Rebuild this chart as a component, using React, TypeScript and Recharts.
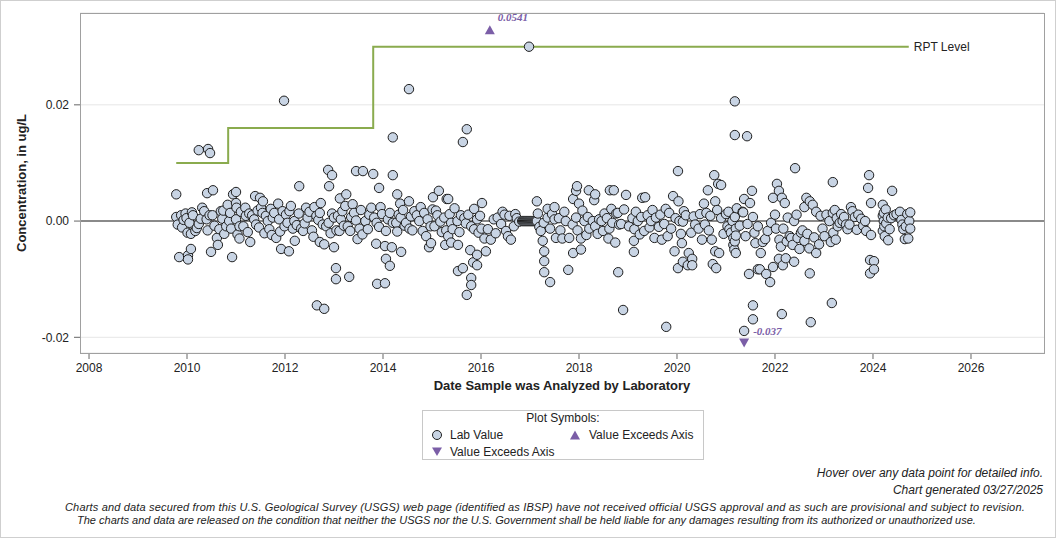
import React from 'react';
import {
  ComposedChart,
  Line,
  Scatter,
  XAxis,
  YAxis,
  CartesianGrid,
  ReferenceLine,
} from 'recharts';

type Pt = [number, number];

// decimal year, concentration (ug/L)
const lab2009to2011: Pt[] = [
  [2009.78, 0.0046], [2009.78, 0.0007], [2009.81, -0.0006], [2009.84, -0.0062], [2009.88, 0.001],
  [2009.9, -0.0011], [2009.93, 0.0002], [2009.97, 0.0013], [2009.99, 0.0005], [2010.01, -0.002],
  [2010.02, -0.0059], [2010.02, -0.0066], [2010.05, -0.0003], [2010.08, -0.0048], [2010.08, -0.0022],
  [2010.1, 0.0015], [2010.12, 0.001], [2010.17, -0.0017], [2010.2, -0.0012], [2010.24, 0.0122],
  [2010.24, -0.0005], [2010.28, 0.0004], [2010.31, 0.0023], [2010.35, 0.0017], [2010.4, 0.0003],
  [2010.41, 0.0048], [2010.42, -0.0016], [2010.43, 0.0124], [2010.46, 0.001], [2010.47, 0.0117],
  [2010.49, -0.0053], [2010.52, 0.001], [2010.53, 0.0053], [2010.56, -0.0008], [2010.61, -0.0029],
  [2010.63, -0.0041], [2010.66, -0.0014], [2010.69, 0.0017], [2010.72, 0.0004], [2010.74, 0.0018],
  [2010.76, -0.0022], [2010.8, -0.0009], [2010.83, 0.0028], [2010.86, 0.0], [2010.88, 0.0014],
  [2010.9, -0.0013], [2010.92, -0.0062], [2010.94, 0.0046], [2011.0, 0.0031], [2011.0, 0.005],
  [2011.01, 0.0023], [2011.0, 0.0003], [2011.03, -0.0023], [2011.07, -0.0009], [2011.07, -0.003],
  [2011.1, 0.0016], [2011.15, -0.0009], [2011.19, 0.0023], [2011.2, 0.0009], [2011.24, -0.0019],
  [2011.27, 0.0013], [2011.29, -0.0036],
];

const lab2011to2013: Pt[] = [
  [2011.33, 0.001], [2011.37, 0.0003], [2011.39, 0.0043], [2011.41, -0.0006], [2011.44, 0.0018],
  [2011.47, -0.0011], [2011.49, 0.004], [2011.51, 0.0023], [2011.54, 0.0014], [2011.55, 0.0034],
  [2011.58, -0.0021], [2011.61, 0.0009], [2011.65, 0.0], [2011.68, -0.0014], [2011.71, 0.0021],
  [2011.73, -0.0024], [2011.75, 0.0006], [2011.78, 0.0014], [2011.82, -0.0029], [2011.86, 0.003],
  [2011.88, 0.0003], [2011.9, -0.0018], [2011.92, -0.0048], [2011.95, 0.0017], [2011.98, 0.0207],
  [2011.99, -0.0009], [2012.02, 0.0011], [2012.05, -0.0003], [2012.08, -0.0052], [2012.09, 0.0017],
  [2012.12, 0.0026], [2012.16, -0.0013], [2012.19, 0.0], [2012.2, -0.0034], [2012.24, -0.0007],
  [2012.28, 0.0013], [2012.29, 0.006], [2012.33, -0.0013], [2012.37, -0.0017], [2012.4, -0.0004],
  [2012.43, 0.0023], [2012.46, 0.0006], [2012.5, 0.0016], [2012.55, -0.0016], [2012.58, -0.0027],
  [2012.6, 0.0024], [2012.64, 0.0009], [2012.65, -0.0145], [2012.68, 0.0002], [2012.71, 0.0014],
  [2012.71, -0.0036], [2012.73, 0.0031], [2012.77, -0.0006], [2012.8, -0.004], [2012.8, -0.0151],
  [2012.84, -0.0009], [2012.88, 0.0088], [2012.89, -0.0003], [2012.9, 0.006], [2012.93, -0.0021],
  [2012.96, 0.0079], [2012.96, 0.0013], [2013.0, 0.0006], [2013.0, -0.0045],
];

const lab2013to2014: Pt[] = [
  [2013.04, -0.0081], [2013.04, -0.01], [2013.05, -0.0016], [2013.08, 0.0009], [2013.11, -0.0017],
  [2013.12, 0.0039], [2013.14, 0.0003], [2013.17, 0.0017], [2013.2, -0.0008], [2013.23, 0.0026],
  [2013.25, 0.0046], [2013.28, -0.0009], [2013.31, -0.0096], [2013.33, -0.0017], [2013.35, 0.0007],
  [2013.38, 0.0029], [2013.41, 0.0014], [2013.45, 0.0086], [2013.45, 0.0001], [2013.48, -0.0031],
  [2013.52, -0.0013], [2013.55, 0.0019], [2013.58, -0.0023], [2013.59, 0.0086], [2013.64, 0.0],
  [2013.69, -0.0014], [2013.72, 0.0011], [2013.76, 0.0023], [2013.8, 0.0081], [2013.82, 0.0006],
  [2013.86, -0.0039], [2013.87, -0.0003], [2013.88, -0.0108], [2013.92, 0.0057], [2013.92, -0.001],
  [2013.95, 0.0024], [2013.98, 0.0012], [2014.04, -0.0107], [2014.04, -0.0043], [2014.06, -0.0017],
  [2014.06, -0.0065], [2014.1, 0.0003], [2014.14, 0.0014], [2014.14, -0.0077], [2014.2, -0.0003],
  [2014.2, 0.0079], [2014.2, 0.0144], [2014.18, -0.0045],
];

const lab2014to2016: Pt[] = [
  [2014.27, -0.0003], [2014.29, 0.0046], [2014.29, -0.0018], [2014.32, 0.0011], [2014.35, 0.003],
  [2014.36, 0.0006], [2014.37, -0.0053], [2014.41, 0.0019], [2014.44, -0.0008], [2014.47, -0.0003],
  [2014.53, 0.0034], [2014.53, 0.0227], [2014.54, -0.0013], [2014.57, 0.0008], [2014.6, -0.0016],
  [2014.64, 0.0017], [2014.69, 0.001], [2014.74, 0.0], [2014.77, 0.0024], [2014.81, -0.0017],
  [2014.84, 0.0014], [2014.88, -0.0026], [2014.91, 0.0003], [2014.94, -0.0045], [2014.97, -0.0009],
  [2014.98, -0.0038], [2015.01, 0.002], [2015.02, 0.0041], [2015.05, -0.0009], [2015.08, 0.0018],
  [2015.11, 0.001], [2015.14, 0.0052], [2015.17, -0.0001], [2015.2, -0.0019], [2015.25, 0.0006],
  [2015.27, -0.0041], [2015.29, -0.0016], [2015.3, 0.0038], [2015.33, 0.0038], [2015.33, -0.0026],
  [2015.36, 0.0012], [2015.39, -0.0003], [2015.39, -0.0037], [2015.42, -0.0014], [2015.46, 0.0022],
  [2015.52, 0.0], [2015.53, -0.0086], [2015.53, -0.0041], [2015.56, -0.0019], [2015.59, 0.001],
  [2015.63, 0.0136], [2015.63, -0.0081], [2015.66, 0.0005], [2015.69, -0.0004], [2015.71, 0.0158],
  [2015.71, -0.0127], [2015.74, 0.0011], [2015.78, -0.005], [2015.8, -0.0009], [2015.8, -0.0098],
  [2015.8, -0.011], [2015.84, -0.0071], [2015.86, 0.0021], [2015.86, -0.0014], [2015.92, 0.0003],
  [2015.92, -0.0058], [2015.92, -0.0076], [2015.95, -0.002], [2015.98, 0.0009], [2016.01, -0.0013],
  [2016.02, 0.0031],
];

const lab2016to2017: Pt[] = [
  [2016.07, -0.003], [2016.1, -0.0052], [2016.14, -0.0014], [2016.2, -0.0032], [2016.26, 0.0003],
  [2016.3, -0.0021], [2016.34, 0.0006], [2016.41, -0.0005], [2016.44, 0.0016], [2016.48, 0.0011],
  [2016.51, -0.0017], [2016.55, -0.0026], [2016.58, 0.0009], [2016.61, -0.0032], [2016.67, -0.0009],
  [2016.7, 0.0012], [2016.73, 0.0005], [2016.78, -0.0001],
  [2016.84, 0], [2016.86, 0], [2016.88, 0], [2016.9, 0], [2016.92, 0], [2016.94, 0], [2016.96, 0],
  [2016.98, 0], [2017.0, 0], [2017.02, 0], [2017.04, 0], [2017.06, 0], [2017.08, 0], [2017.1, 0],
  [2017.12, 0], [2017.14, 0],
  [2016.98, 0.03], [2017.14, 0.0034], [2017.16, 0.0013], [2017.19, -0.001], [2017.22, -0.0017],
  [2017.26, -0.0034], [2017.28, -0.0003], [2017.29, -0.0052], [2017.29, -0.0069], [2017.29, -0.0088],
  [2017.36, 0.0006], [2017.36, 0.0021], [2017.41, -0.0013], [2017.41, -0.0105], [2017.45, 0.0012],
  [2017.5, 0.0003], [2017.5, 0.0024], [2017.53, -0.0029], [2017.59, 0.0005], [2017.62, -0.0016],
  [2017.66, -0.003], [2017.7, 0.0016], [2017.73, 0.0], [2017.78, -0.0084], [2017.8, -0.0029],
];

const lab2017to2019: Pt[] = [
  [2017.87, -0.0006], [2017.88, 0.0038], [2017.88, -0.0055], [2017.94, 0.0052], [2017.94, 0.0006],
  [2017.96, 0.006], [2017.97, -0.0016], [2018.0, 0.003], [2018.04, -0.003], [2018.04, -0.0049],
  [2018.07, 0.0018], [2018.11, 0.0], [2018.15, -0.0024], [2018.18, 0.0007], [2018.2, 0.0053],
  [2018.21, -0.0013], [2018.28, 0.0], [2018.31, 0.0036], [2018.33, 0.0046], [2018.33, -0.0009],
  [2018.38, -0.0022], [2018.41, 0.0003], [2018.46, 0.0], [2018.49, -0.0017], [2018.52, 0.0013],
  [2018.57, 0.0005], [2018.6, -0.003], [2018.62, -0.0013], [2018.63, 0.0053], [2018.66, 0.0021],
  [2018.68, -0.0003], [2018.71, 0.0053], [2018.74, -0.0037], [2018.76, 0.0013], [2018.79, 0.0014],
  [2018.8, -0.0088], [2018.82, -0.0006], [2018.86, -0.0005], [2018.9, -0.0153], [2018.92, 0.002],
  [2018.96, 0.0045],
];

const lab2019to2020: Pt[] = [
  [2019.02, -0.0009], [2019.09, 0.0005], [2019.12, -0.0034], [2019.12, -0.0053], [2019.13, -0.0014],
  [2019.16, 0.0016], [2019.2, 0.0], [2019.24, -0.0023], [2019.27, 0.0007], [2019.29, 0.004],
  [2019.33, -0.0017], [2019.35, 0.0041], [2019.4, 0.001], [2019.44, -0.0011], [2019.47, 0.0],
  [2019.5, 0.0019], [2019.54, -0.0029], [2019.57, 0.0006], [2019.63, -0.001], [2019.66, 0.0011],
  [2019.69, -0.0032], [2019.74, -0.0005], [2019.77, 0.0021], [2019.78, -0.0182], [2019.81, -0.0026],
  [2019.84, 0.0014], [2019.88, -0.0013], [2019.92, 0.0043], [2019.95, -0.0052], [2019.97, 0.0005],
  [2020.02, 0.0086], [2020.02, -0.0081], [2020.03, 0.0034], [2020.05, 0.0], [2020.08, -0.0022],
  [2020.1, -0.0038], [2020.12, -0.0001], [2020.12, -0.007], [2020.14, 0.0017], [2020.18, 0.001],
  [2020.22, -0.0076], [2020.24, -0.0055], [2020.29, -0.002], [2020.31, -0.0065], [2020.31, -0.0076],
  [2020.34, 0.0008], [2020.37, -0.0006], [2020.44, -0.0013], [2020.47, 0.0012], [2020.51, -0.0032],
];

const lab2020to2021: Pt[] = [
  [2020.55, 0.003], [2020.57, -0.0006], [2020.6, 0.0014], [2020.63, 0.0053], [2020.65, -0.0016],
  [2020.68, 0.0009], [2020.71, -0.0032], [2020.73, -0.0074], [2020.76, 0.0079], [2020.78, 0.0034],
  [2020.78, -0.0052], [2020.8, -0.0081], [2020.82, 0.0019], [2020.84, 0.0064], [2020.86, -0.0055],
  [2020.9, 0.0062], [2020.9, 0.0005], [2020.95, -0.0022], [2021.0, 0.0012], [2021.03, -0.0009],
  [2021.05, 0.0016], [2021.07, -0.0014], [2021.1, -0.002], [2021.13, 0.0], [2021.15, -0.0029],
  [2021.15, -0.0041], [2021.17, -0.0049], [2021.18, 0.0206], [2021.18, 0.0148], [2021.18, 0.0007],
  [2021.18, -0.0035], [2021.2, -0.0013], [2021.2, -0.0025], [2021.2, -0.0055], [2021.22, 0.0022],
  [2021.28, -0.0008], [2021.34, 0.0016], [2021.35, 0.0015], [2021.37, 0.0038], [2021.37, -0.0189],
  [2021.4, -0.0026], [2021.43, 0.0146], [2021.44, -0.0005], [2021.47, -0.0091], [2021.49, 0.0031],
];

const lab2021to2022: Pt[] = [
  [2021.53, 0.0052], [2021.55, 0.0007], [2021.55, -0.0145], [2021.55, -0.0169], [2021.58, -0.002],
  [2021.6, -0.0038], [2021.65, -0.0083], [2021.65, -0.0009], [2021.69, -0.0083], [2021.71, -0.0055],
  [2021.75, -0.0036], [2021.8, -0.0031], [2021.82, -0.0091], [2021.85, -0.0017], [2021.9, -0.0105],
  [2021.92, -0.0003], [2021.96, -0.0079], [2021.96, 0.004], [2022.0, 0.0011], [2022.02, -0.0013],
  [2022.04, 0.0064], [2022.08, -0.0065], [2022.08, 0.0052], [2022.09, -0.0032], [2022.12, -0.0044],
  [2022.14, -0.016], [2022.14, 0.004], [2022.16, -0.0076], [2022.17, -0.0013], [2022.2, 0.0031],
  [2022.22, -0.0064], [2022.24, -0.0035], [2022.26, 0.0006], [2022.3, -0.0026], [2022.33, -0.0029],
  [2022.36, -0.0041], [2022.39, 0.0], [2022.39, -0.007], [2022.41, 0.0091], [2022.44, 0.0011],
  [2022.46, -0.0029], [2022.5, -0.0048], [2022.53, -0.002],
];

const lab2022to2023: Pt[] = [
  [2022.56, -0.0016], [2022.6, -0.0034], [2022.6, 0.0024], [2022.64, 0.004], [2022.66, -0.0022],
  [2022.7, -0.0047], [2022.71, 0.0034], [2022.71, -0.009], [2022.73, -0.0174], [2022.77, 0.0028],
  [2022.8, -0.0028], [2022.84, -0.0055], [2022.84, 0.0016], [2022.9, -0.004], [2022.93, 0.0009],
  [2022.97, -0.0013], [2023.01, -0.0026], [2023.05, 0.0011], [2023.11, 0.0], [2023.14, -0.0036],
  [2023.16, -0.0141], [2023.18, 0.0067], [2023.18, 0.0014], [2023.19, -0.002], [2023.22, 0.0019],
  [2023.24, -0.0032], [2023.26, 0.0005], [2023.28, -0.0009], [2023.32, -0.0003], [2023.35, 0.0012],
  [2023.38, 0.0], [2023.41, 0.0007],
];

const lab2023to2024: Pt[] = [
  [2023.45, -0.0006], [2023.48, -0.0014], [2023.52, -0.0006], [2023.55, 0.0024], [2023.58, 0.0017],
  [2023.63, 0.0007], [2023.67, -0.0015], [2023.7, 0.0011], [2023.76, 0.0004], [2023.8, -0.0008],
  [2023.84, 0.0], [2023.86, -0.0017], [2023.9, 0.0057], [2023.92, 0.0079], [2023.94, -0.0067],
  [2023.94, -0.009], [2023.96, 0.0031], [2023.96, -0.0024], [2024.02, -0.0069], [2024.02, -0.0083],
  [2024.2, 0.0028], [2024.2, 0.0009], [2024.2, -0.0017], [2024.22, 0.0], [2024.22, 0.0014],
  [2024.23, -0.0009], [2024.24, -0.0026], [2024.26, 0.002], [2024.27, -0.0004], [2024.3, 0.0006],
  [2024.31, -0.0033], [2024.34, -0.0014], [2024.37, 0.0005], [2024.39, 0.0052], [2024.43, 0.001],
  [2024.48, 0.0012], [2024.55, 0.0016], [2024.58, 0.0002], [2024.6, -0.0006], [2024.62, -0.0014],
  [2024.65, -0.0031], [2024.67, -0.0009], [2024.7, 0.0012], [2024.72, -0.003], [2024.74, 0.0],
  [2024.76, 0.0015], [2024.76, -0.0013],
];

// values beyond the axis range, drawn as triangles pinned to the edge
const exceedHigh: Pt[] = [[2016.18, 0.0541]];
const exceedLow: Pt[] = [[2021.37, -0.037]];

// reporting level steps: start of each level, last point closes the line
const rptLevel: Pt[] = [[2009.78, 0.01], [2010.84, 0.016], [2013.8, 0.03], [2024.73, 0.03]];

const yearTicks = [2008, 2010, 2012, 2014, 2016, 2018, 2020, 2022, 2024, 2026];
const concTicks = [-0.02, 0, 0.02];

const X_DOMAIN: [number, number] = [2007.816, 2027.49];
const Y_DOMAIN: [number, number] = [-0.0227, 0.0358];
const PIN_HIGH = 0.0329;
const PIN_LOW = -0.021;

const FONT = '"Liberation Sans", Arial, sans-serif';
const PURPLE = '#7b5ea7';

const labValues = [
  ...lab2009to2011, ...lab2011to2013, ...lab2013to2014, ...lab2014to2016, ...lab2016to2017,
  ...lab2017to2019, ...lab2019to2020, ...lab2020to2021, ...lab2021to2022, ...lab2022to2023,
  ...lab2023to2024,
].map(([x, y]) => ({ x, y }));

const highMarks = exceedHigh.map(([x, v]) => ({ x, y: Math.min(v, PIN_HIGH), value: v }));
const lowMarks = exceedLow.map(([x, v]) => ({ x, y: Math.max(v, PIN_LOW), value: v }));
const rptData = rptLevel.map(([x, y]) => ({ x, y }));

const LabCircle = (p: any) => (
  <circle cx={p.cx} cy={p.cy} r={4.7} fill="#c8d4e4" stroke="#1e1e1e" strokeWidth={1} />
);

const UpMark = (p: any) => (
  <g>
    <path d={`M${p.cx - 5},${p.cy + 4.5} L${p.cx + 5},${p.cy + 4.5} L${p.cx},${p.cy - 4.5} Z`} fill={PURPLE} />
    <text x={p.cx + 8} y={p.cy - 9} fill={PURPLE} fontSize={11} fontStyle="italic" fontWeight="bold"
      fontFamily='"Liberation Serif", "Times New Roman", serif'>
      {p.payload.value}
    </text>
  </g>
);

const DownMark = (p: any) => (
  <g>
    <path d={`M${p.cx - 5},${p.cy - 4.5} L${p.cx + 5},${p.cy - 4.5} L${p.cx},${p.cy + 4.5} Z`} fill={PURPLE} />
    <text x={p.cx + 9} y={p.cy - 8} fill={PURPLE} fontSize={11} fontStyle="italic" fontWeight="bold"
      fontFamily='"Liberation Serif", "Times New Roman", serif'>
      {p.payload.value}
    </text>
  </g>
);

const RptLabel = (p: any) =>
  p.index === rptData.length - 1 ? (
    <text x={p.x + 5} y={p.y + 4} fontSize={12} fill="#222" fontFamily={FONT}>RPT Level</text>
  ) : null;

const abs = (left: number, top: number): React.CSSProperties => ({ position: 'absolute', left, top });

export default function App() {
  return (
    <div style={{ position: 'absolute', left: 0, top: 0, width: 1054, height: 536, border: '1px solid #cfcfcf', background: '#fff', fontFamily: FONT, color: '#222' }}>
      <ComposedChart width={1056} height={400} margin={{ top: 12, right: 13, left: 0, bottom: 18 }}>
        <CartesianGrid vertical={false} stroke="#e6e6e6" />
        <XAxis type="number" dataKey="x" domain={X_DOMAIN} ticks={yearTicks} allowDataOverflow
          axisLine={false} tickSize={6} tickMargin={4} height={30} stroke="#666"
          tick={{ fill: '#222', fontSize: 12, fontFamily: FONT }} />
        <YAxis type="number" dataKey="y" domain={Y_DOMAIN} ticks={concTicks} allowDataOverflow
          axisLine={false} tickSize={6} tickMargin={5} width={79} stroke="#666"
          tickFormatter={(v: number) => v.toFixed(2)}
          tick={{ fill: '#222', fontSize: 12, fontFamily: FONT }} />
        <ReferenceLine y={0} stroke="#8a8a8a" strokeWidth={2} />
        <Line data={rptData} dataKey="y" type="stepAfter" stroke="#8aab4e" strokeWidth={2}
          dot={false} activeDot={false} isAnimationActive={false} label={RptLabel} />
        <Scatter data={labValues} dataKey="y" shape={LabCircle} isAnimationActive={false} />
        <Scatter data={highMarks} dataKey="y" shape={UpMark} isAnimationActive={false} />
        <Scatter data={lowMarks} dataKey="y" shape={DownMark} isAnimationActive={false} />
      </ComposedChart>

      {/* plot frame */}
      <div style={{ ...abs(79, 12), width: 963, height: 339, border: '1px solid #a0a0a0', pointerEvents: 'none' }} />

      <div style={{ ...abs(20, 182), transform: 'translate(-50%, -50%) rotate(-90deg)', whiteSpace: 'nowrap', fontSize: 13, fontWeight: 'bold' }}>
        Concentration, in ug/L
      </div>
      <div style={{ ...abs(561, 377), transform: 'translateX(-50%)', whiteSpace: 'nowrap', fontSize: 13, fontWeight: 'bold' }}>
        Date Sample was Analyzed by Laboratory
      </div>

      {/* symbol key */}
      <div style={{ ...abs(421, 409), width: 280, height: 48, border: '1px solid #c8c8c8', fontSize: 12 }}>
        <div style={{ textAlign: 'center', lineHeight: '15px' }}>Plot Symbols:</div>
        <svg width={280} height={34} style={{ position: 'absolute', left: 0, top: 15 }}>
          <circle cx={14} cy={9} r={4.5} fill="#c8d4e4" stroke="#1e1e1e" strokeWidth={1} />
          <text x={27} y={13} fontSize={12} fill="#222" fontFamily={FONT}>Lab Value</text>
          <path d="M147,13.5 L157,13.5 L152,4.5 Z" fill={PURPLE} />
          <text x={166} y={13} fontSize={12} fill="#222" fontFamily={FONT}>Value Exceeds Axis</text>
          <path d="M9,21.5 L19,21.5 L14,30 Z" fill={PURPLE} />
          <text x={27} y={30} fontSize={12} fill="#222" fontFamily={FONT}>Value Exceeds Axis</text>
        </svg>
      </div>

      <div style={{ position: 'absolute', right: 12, top: 464, fontSize: 12, fontStyle: 'italic', textAlign: 'right', lineHeight: '17px' }}>
        Hover over any data point for detailed info.<br />Chart generated 03/27/2025
      </div>
      <div style={{ ...abs(64, 500), whiteSpace: 'nowrap', fontSize: 11, fontStyle: 'italic', lineHeight: '13px', letterSpacing: '0.17px' }}>
        Charts and data secured from this U.S. Geological Survey (USGS) web page (identified as IBSP) have not received official USGS approval and as such are provisional and subject to revision.
      </div>
      <div style={{ ...abs(76, 513), whiteSpace: 'nowrap', fontSize: 11, fontStyle: 'italic', lineHeight: '13px' }}>
        The charts and data are released on the condition that neither the USGS nor the U.S. Government shall be held liable for any damages resulting from its authorized or unauthorized use.
      </div>
    </div>
  );
}
